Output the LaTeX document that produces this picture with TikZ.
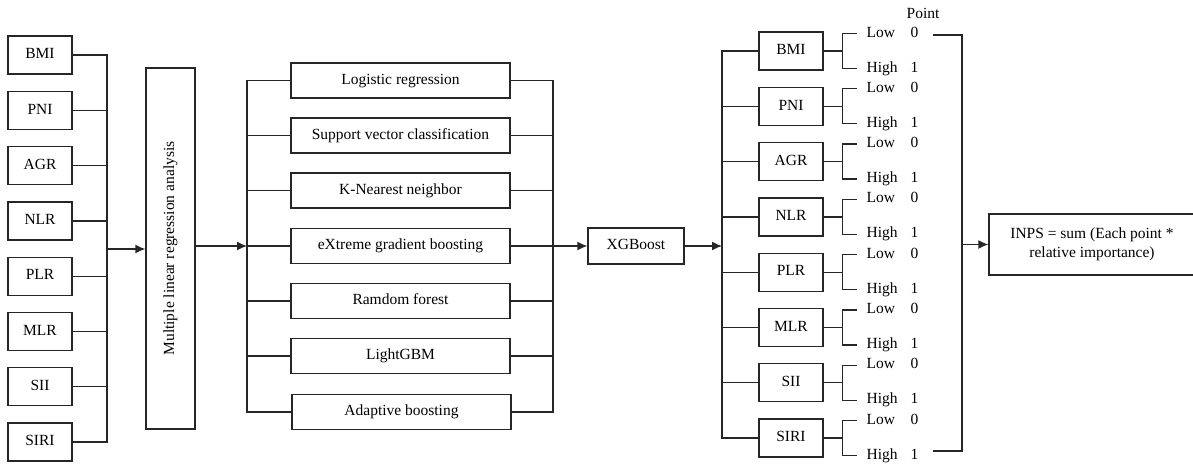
\documentclass[tikz,border=0pt]{standalone}
\usepackage{fontspec}
\setmainfont{Liberation Serif}
\usetikzlibrary{arrows.meta}

\begin{document}
\begin{tikzpicture}[x=1pt,y=-1pt,line width=1.3pt,draw=black!85,
    txt/.style={font=\fontsize{15.5}{19}\selectfont},
    box/.style={draw,txt,inner sep=0pt,text height=10.5pt,text depth=3pt},
    varbox/.style={box,minimum width=64,minimum height=38},
    modelbox/.style={box,minimum width=219,minimum height=35},
    lvl/.style={txt,anchor=west,inner sep=0pt,text height=10pt,text depth=3pt},
    arr/.style={-{Latex[length=10pt,width=9pt]}}]
    \useasboundingbox (0,0) rectangle (1193,464);

    % input variables
    \node[varbox] (bmi) at (40,55) {BMI};
    \node[varbox] (pni) at (40,110.3) {PNI};
    \node[varbox] (agr) at (40,165.6) {AGR};
    \node[varbox] (nlr) at (40,220.9) {NLR};
    \node[varbox] (plr) at (40,276.2) {PLR};
    \node[varbox] (mlr) at (40,331.5) {MLR};
    \node[varbox] (sii) at (40,386.8) {SII};
    \node[varbox] (siri) at (40,442.1) {SIRI};
    \coordinate (lbus) at (107,249);
    \draw (bmi.east) -| (lbus);  \draw (pni.east) -| (lbus);
    \draw (agr.east) -| (lbus);  \draw (nlr.east) -| (lbus);
    \draw (plr.east) -| (lbus);  \draw (mlr.east) -| (lbus);
    \draw (sii.east) -| (lbus);  \draw (siri.east) -| (lbus);

    \node[draw,minimum width=49,minimum height=361] (mlra) at (170.5,248.5) {};
    \node[txt,rotate=90] (mlratxt) at (mlra.center) {Multiple linear regression analysis};
    \draw[arr] (lbus) -- (lbus -| mlra.west);

    % models
    \node[modelbox] (lr) at (400.5,80.5) {Logistic regression};
    \node[modelbox] (svc) at (400.5,135.5) {Support vector classification};
    \node[modelbox] (knn) at (400.5,190.5) {K-Nearest neighbor};
    \node[modelbox] (xgbm) at (400.5,246) {eXtreme gradient boosting};
    \node[modelbox] (rf) at (400.5,301) {Ramdom forest};
    \node[modelbox] (lgbm) at (400.5,356) {LightGBM};
    \node[modelbox] (ada) at (401.5,412) {Adaptive boosting};
    \coordinate (mbus) at (247,246);
    \coordinate (nbus) at (553,246);
    \draw[arr] (mlra.east |- mbus) -- (mbus);
    \draw (mbus) |- (lr.west);   \draw (lr.east) -| (nbus);
    \draw (mbus) |- (svc.west);  \draw (svc.east) -| (nbus);
    \draw (mbus) |- (knn.west);  \draw (knn.east) -| (nbus);
    \draw (mbus) |- (xgbm.west); \draw (xgbm.east) -| (nbus);
    \draw (mbus) |- (rf.west);   \draw (rf.east) -| (nbus);
    \draw (mbus) |- (lgbm.west); \draw (lgbm.east) -| (nbus);
    \draw (mbus) |- (ada.west);  \draw (ada.east) -| (nbus);

    \node[box,minimum width=96,minimum height=36] (xgb) at (636,246) {XGBoost};
    \draw[arr] (nbus) -- (xgb.west);
    \coordinate (rbus) at (722,246);
    \draw[arr] (xgb.east) -- (rbus);

    % points
    \node[txt] (point) at (923,13) {Point};
    \node[varbox] (rbmi) at (791,51) {BMI};
    \node[varbox] (rpni) at (791,106.3) {PNI};
    \node[varbox] (ragr) at (791,161.6) {AGR};
    \node[varbox] (rnlr) at (791,216.9) {NLR};
    \node[varbox] (rplr) at (791,272.2) {PLR};
    \node[varbox] (rmlr) at (791,327.5) {MLR};
    \node[varbox] (rsii) at (791,382.8) {SII};
    \node[varbox] (rsiri) at (791,438.1) {SIRI};

    \node[lvl] (bmiL) at (866,33.5) {\makebox[44pt][l]{Low}0};
    \node[lvl] (bmiH) at (866,68.5) {\makebox[44pt][l]{High}1};
    \node[lvl] (pniL) at (866,88.8) {\makebox[44pt][l]{Low}0};
    \node[lvl] (pniH) at (866,123.8) {\makebox[44pt][l]{High}1};
    \node[lvl] (agrL) at (866,144.1) {\makebox[44pt][l]{Low}0};
    \node[lvl] (agrH) at (866,179.1) {\makebox[44pt][l]{High}1};
    \node[lvl] (nlrL) at (866,199.4) {\makebox[44pt][l]{Low}0};
    \node[lvl] (nlrH) at (866,234.4) {\makebox[44pt][l]{High}1};
    \node[lvl] (plrL) at (866,254.7) {\makebox[44pt][l]{Low}0};
    \node[lvl] (plrH) at (866,289.7) {\makebox[44pt][l]{High}1};
    \node[lvl] (mlrL) at (866,310) {\makebox[44pt][l]{Low}0};
    \node[lvl] (mlrH) at (866,345) {\makebox[44pt][l]{High}1};
    \node[lvl] (siiL) at (866,365.3) {\makebox[44pt][l]{Low}0};
    \node[lvl] (siiH) at (866,400.3) {\makebox[44pt][l]{High}1};
    \node[lvl] (siriL) at (866,420.6) {\makebox[44pt][l]{Low}0};
    \node[lvl] (siriH) at (866,455.6) {\makebox[44pt][l]{High}1};

    \draw (rbus) |- (rbmi.west);  \draw (rbmi.east) -- ++(19,0);
    \draw ([xshift=-9pt]bmiL.west) -| ([xshift=19pt]rbmi.east) |- ([xshift=-9pt]bmiH.west);
    \draw (rbus) |- (rpni.west);  \draw (rpni.east) -- ++(19,0);
    \draw ([xshift=-9pt]pniL.west) -| ([xshift=19pt]rpni.east) |- ([xshift=-9pt]pniH.west);
    \draw (rbus) |- (ragr.west);  \draw (ragr.east) -- ++(19,0);
    \draw ([xshift=-9pt]agrL.west) -| ([xshift=19pt]ragr.east) |- ([xshift=-9pt]agrH.west);
    \draw (rbus) |- (rnlr.west);  \draw (rnlr.east) -- ++(19,0);
    \draw ([xshift=-9pt]nlrL.west) -| ([xshift=19pt]rnlr.east) |- ([xshift=-9pt]nlrH.west);
    \draw (rbus) |- (rplr.west);  \draw (rplr.east) -- ++(19,0);
    \draw ([xshift=-9pt]plrL.west) -| ([xshift=19pt]rplr.east) |- ([xshift=-9pt]plrH.west);
    \draw (rbus) |- (rmlr.west);  \draw (rmlr.east) -- ++(19,0);
    \draw ([xshift=-9pt]mlrL.west) -| ([xshift=19pt]rmlr.east) |- ([xshift=-9pt]mlrH.west);
    \draw (rbus) |- (rsii.west);  \draw (rsii.east) -- ++(19,0);
    \draw ([xshift=-9pt]siiL.west) -| ([xshift=19pt]rsii.east) |- ([xshift=-9pt]siiH.west);
    \draw (rbus) |- (rsiri.west); \draw (rsiri.east) -- ++(19,0);
    \draw ([xshift=-9pt]siriL.west) -| ([xshift=19pt]rsiri.east) |- ([xshift=-9pt]siriH.west);

    % total score
    \coordinate (ptop) at (933,35);
    \coordinate (pbot) at (933,451);
    \coordinate (pmid) at (962,244.5);
    \draw (ptop) -| (pmid) |- (pbot);
    \node[draw,txt,minimum width=206,minimum height=61,align=center] (inps) at (1092,244.5)
        {INPS = sum (Each point *\\relative importance)};
    \draw[arr] (pmid) -- (inps.west);
\end{tikzpicture}
\end{document}
